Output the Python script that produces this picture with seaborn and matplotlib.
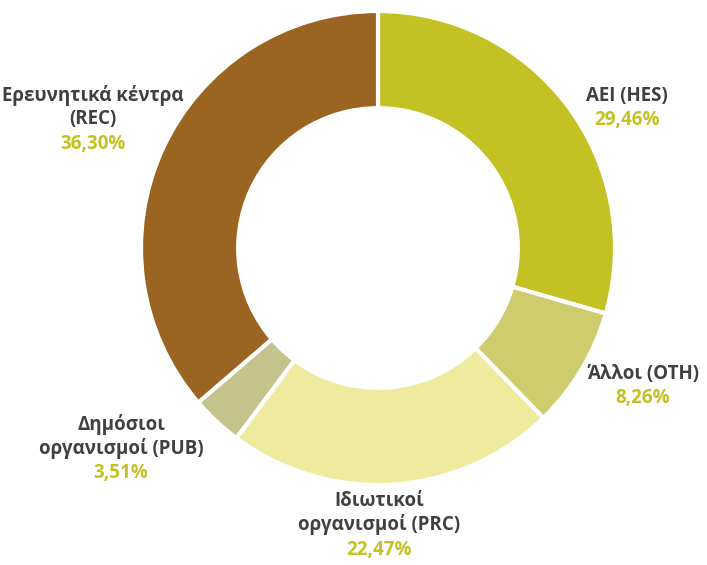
import matplotlib
matplotlib.use("Agg")
import matplotlib.pyplot as plt
import seaborn as sns

sns.set_theme(style="white")
plt.rcParams['font.family'] = ['Open Sans', 'DejaVu Sans']

# data
labels = ["ΑΕΙ (HES)", "Άλλοι (OTH)", "Ιδιωτικοί\nοργανισμοί (PRC)",
          "Δημόσιοι\nοργανισμοί (PUB)", "Ερευνητικά κέντρα\n(REC)"]
shares = [29.46, 8.26, 22.47, 3.51, 36.30]
colors = ["#C4C124", "#CFCC6E", "#EFEB9E", "#C4C38C", "#9A6421"]

# label anchor points in pixels (x, y of top of first line)
label_px = [(627, 86), (643, 364), (379, 491), (121, 414), (93, 85)]

W, H = 707, 565
cx, cy, R = 378, 248, 237

fig = plt.figure(figsize=(W / 100, H / 100), dpi=100)
ax = fig.add_axes([0, 0, 1, 1])
ax.pie(shares, colors=colors, startangle=90, counterclock=False,
       radius=1, wedgeprops=dict(width=0.41, edgecolor='white', linewidth=3))
ax.set_xlim(-cx / R, (W - cx) / R)
ax.set_ylim(-(H - cy) / R, cy / R)
ax.set_aspect('auto')
ax.axis('off')

for lab, v, (px, py) in zip(labels, shares, label_px):
    x = (px - cx) / R
    y = (cy - py) / R
    ax.text(x, y, lab, ha='center', va='top', fontsize=13.5, fontweight='bold',
            color='#404040', linespacing=1.2)
    n = lab.count("\n") + 1
    y2 = (cy - (py + 24.5 * n)) / R
    ax.text(x, y2, f"{v:.2f}".replace('.', ',') + "%", ha='center', va='top',
            fontsize=13.5, fontweight='bold', color='#C4C124')

fig.savefig("out.png", dpi=100)
